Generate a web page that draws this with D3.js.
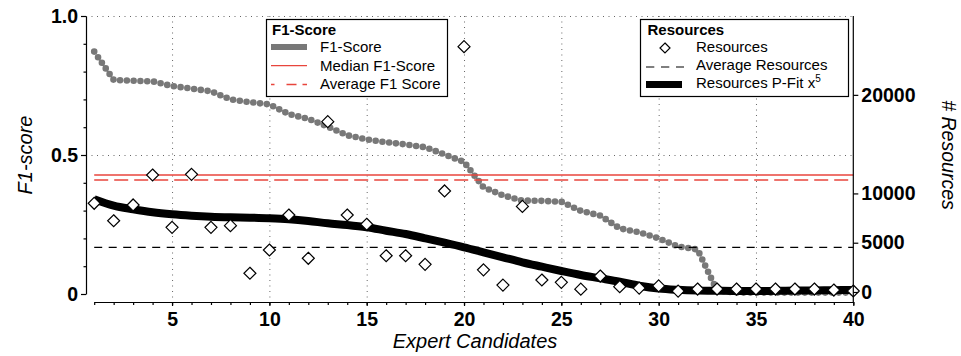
<!DOCTYPE html>
<html>
<head>
<meta charset="utf-8">
<script src="https://cdn.jsdelivr.net/npm/d3@7"></script>
<style>
body { margin: 0; background: #fff; }
svg { font-family: "Liberation Sans", Arial, Helvetica, sans-serif; }
</style>
</head>
<body>
<script>
// Data
const candidates = [1,2,3,4,5,6,7,8,9,10,11,12,13,14,15,16,17,18,19,20,
                    21,22,23,24,25,26,27,28,29,30,31,32,33,34,35,36,37,38,39,40];

const f1Scores = [0.872,0.770,0.767,0.765,0.748,0.739,0.729,0.700,0.690,0.682,
                  0.647,0.630,0.602,0.571,0.556,0.546,0.538,0.528,0.502,0.475,
                  0.384,0.355,0.336,0.335,0.332,0.299,0.282,0.236,0.222,0.200,
                  0.171,0.160,0.012,0.005,0.005,0.005,0.005,0.005,0.005,0.005];

const resources = [9000,7230,8830,11870,6560,11940,6560,6730,1900,4260,
                   7810,3420,17280,7810,6870,3680,3680,2810,10250,24890,
                   2250,700,8680,1220,980,290,1620,540,400,620,
                   90,300,300,300,300,300,300,300,200,100];

const resourcesFit = [9405,8755,8390,8086,7883,7741,7639,7578,7538,7477,
                      7376,7203,6970,6797,6564,6219,5884,5448,5002,4535,
                      4028,3520,3013,2567,2130,1725,1390,1045,639,355,
                      223,152,122,101,101,122,142,162,183,203];

const medianF1 = 0.428;
const averageF1 = 0.410;
const averageResources = 4535;

const xTicks = [5,10,15,20,25,30,35,40];
const xGrid = [5,10,15,20,25,30,35];
const leftTicks = [0, 0.5, 1];
const leftLabels = ["0", "0.5", "1.0"];
const leftMinor = [0.1,0.2,0.3,0.4,0.6,0.7,0.8,0.9];
const rightTicks = [0, 5000, 10000, 20000];

// Layout
var width = 961, height = 356;
var leftX = 86, xAxisY = 302;
var red = "#e8453c", gray = "#787878";

var svg = d3.select("body").append("svg")
    .attr("width", width)
    .attr("height", height);

var x = d3.scaleLinear().domain([1, 40]).range([94.2, 853.3]);
var yF1 = d3.scaleLinear().domain([0, 1]).range([294, 16]);
var yRes = d3.scaleLinear().domain([0, 28000]).range([292, 16]);

// Gridlines (dotted)
var grid = svg.append("g")
    .attr("stroke", "#666")
    .attr("stroke-width", 1)
    .attr("stroke-dasharray", "1,4.5");

grid.selectAll(".vgrid").data(xGrid)
  .enter().append("line")
    .attr("x1", d => x(d) + 0.5).attr("x2", d => x(d) + 0.5)
    .attr("y1", yF1(1)).attr("y2", xAxisY);

grid.selectAll(".hgrid").data([0.5, 1])
  .enter().append("line")
    .attr("x1", leftX).attr("x2", x(40))
    .attr("y1", d => yF1(d) + 0.5).attr("y2", d => yF1(d) + 0.5);

// F1-score as thick dotted line
svg.append("path")
    .datum(candidates)
    .attr("fill", "none")
    .attr("stroke", gray)
    .attr("stroke-width", 6.6)
    .attr("stroke-linecap", "round")
    .attr("stroke-dasharray", "0,6.8")
    .attr("d", d3.line()
        .x(d => x(d))
        .y((d, i) => yF1(f1Scores[i])));

// Median and average F1
svg.append("line")
    .attr("x1", x(1)).attr("x2", x(40))
    .attr("y1", yF1(medianF1)).attr("y2", yF1(medianF1))
    .attr("stroke", red).attr("stroke-width", 1.3);

svg.append("line")
    .attr("x1", x(1)).attr("x2", x(40))
    .attr("y1", yF1(averageF1)).attr("y2", yF1(averageF1))
    .attr("stroke", red).attr("stroke-width", 1.3)
    .attr("stroke-dasharray", "14,6");

// Average resources
svg.append("line")
    .attr("x1", x(1)).attr("x2", x(40))
    .attr("y1", yRes(averageResources)).attr("y2", yRes(averageResources))
    .attr("stroke", "#000").attr("stroke-width", 1.2)
    .attr("stroke-dasharray", "8,6.5");

// Polynomial fit of resources
svg.append("path")
    .datum(candidates)
    .attr("fill", "none")
    .attr("stroke", "#000")
    .attr("stroke-width", 8)
    .attr("d", d3.line()
        .curve(d3.curveMonotoneX)
        .x(d => x(d))
        .y((d, i) => yRes(resourcesFit[i])));

// Resources diamonds
function diamond(r) {
    return `M0,${-r}L${r},0L0,${r}L${-r},0Z`;
}

svg.selectAll(".res").data(candidates)
  .enter().append("path")
    .attr("class", "res")
    .attr("d", diamond(6))
    .attr("transform", (d, i) => `translate(${x(d)},${yRes(resources[i])})`)
    .attr("fill", "#fff")
    .attr("stroke", "#000")
    .attr("stroke-width", 1.2);

// Axes
function styleAxis(g, size) {
    g.selectAll("line").attr("stroke", "#000").attr("stroke-width", 1.2);
    g.selectAll("path").attr("stroke", "#000").attr("stroke-width", 1.2);
    g.selectAll("text")
        .attr("fill", "#000")
        .attr("font-family", "Liberation Sans, Arial, Helvetica, sans-serif")
        .attr("font-weight", "bold")
        .attr("font-size", size);
}

var leftAxis = svg.append("g")
    .attr("transform", `translate(${leftX},0)`)
    .call(d3.axisLeft(yF1).tickValues(leftTicks)
        .tickFormat((d, i) => leftLabels[i])
        .tickSize(5).tickSizeOuter(0).tickPadding(3));
styleAxis(leftAxis, 19.5);

var leftMinorAxis = svg.append("g")
    .attr("transform", `translate(${leftX},0)`)
    .call(d3.axisLeft(yF1).tickValues(leftMinor).tickFormat("").tickSize(2.5));
leftMinorAxis.select(".domain").remove();
styleAxis(leftMinorAxis, 10);

var rightAxis = svg.append("g")
    .attr("transform", `translate(${x(40)},0)`)
    .call(d3.axisRight(yRes).tickValues(rightTicks)
        .tickFormat(d3.format("d"))
        .tickSize(5).tickSizeOuter(0).tickPadding(3));
rightAxis.select(".domain").remove();
styleAxis(rightAxis, 19.5);

svg.append("line")
    .attr("x1", x(40)).attr("x2", x(40))
    .attr("y1", yF1(1)).attr("y2", xAxisY)
    .attr("stroke", "#000").attr("stroke-width", 1.2);

var xAxis = svg.append("g")
    .attr("transform", `translate(0,${xAxisY})`)
    .call(d3.axisBottom(x).tickValues(xTicks)
        .tickSize(4).tickSizeOuter(0).tickPadding(6));
styleAxis(xAxis, 19.5);

var xMinorAxis = svg.append("g")
    .attr("transform", `translate(0,${xAxisY})`)
    .call(d3.axisBottom(x).tickValues(candidates).tickFormat("").tickSize(3));
xMinorAxis.select(".domain").remove();
styleAxis(xMinorAxis, 10);

// Axis titles
svg.append("text")
    .attr("transform", "translate(32,155) rotate(-90)")
    .attr("text-anchor", "middle")
    .attr("font-style", "italic")
    .attr("font-size", 20)
    .text("F1-score");

svg.append("text")
    .attr("transform", "translate(942,155) rotate(90)")
    .attr("text-anchor", "middle")
    .attr("font-style", "italic")
    .attr("font-size", 19.5)
    .text("# Resources");

svg.append("text")
    .attr("x", 475).attr("y", 348)
    .attr("text-anchor", "middle")
    .attr("font-style", "italic")
    .attr("font-size", 20)
    .text("Expert Candidates");

// Legend: F1-Score
var leg1 = svg.append("g");
leg1.append("rect")
    .attr("x", 266.5).attr("y", 19.5)
    .attr("width", 181).attr("height", 77)
    .attr("fill", "#fff").attr("stroke", "#000").attr("stroke-width", 1.2);
leg1.append("text")
    .attr("x", 272).attr("y", 34.7)
    .attr("font-weight", "bold").attr("font-size", 15)
    .text("F1-Score");
leg1.append("rect")
    .attr("x", 271).attr("y", 44).attr("width", 36).attr("height", 6)
    .attr("fill", gray);
leg1.append("line")
    .attr("x1", 271).attr("x2", 307).attr("y1", 65.7).attr("y2", 65.7)
    .attr("stroke", red).attr("stroke-width", 1.3);
leg1.append("line")
    .attr("x1", 271).attr("x2", 307).attr("y1", 84.5).attr("y2", 84.5)
    .attr("stroke", red).attr("stroke-width", 1.3)
    .attr("stroke-dasharray", "3.5,12,10,6,4.5");
leg1.selectAll(".lt").data(["F1-Score", "Median F1-Score", "Average F1 Score"])
  .enter().append("text")
    .attr("x", 320)
    .attr("y", (d, i) => 52.3 + i * 18.3)
    .attr("font-size", 15)
    .text(d => d);

// Legend: Resources
var leg2 = svg.append("g");
leg2.append("rect")
    .attr("x", 640.5).attr("y", 19.5)
    .attr("width", 208).attr("height", 77)
    .attr("fill", "#fff").attr("stroke", "#000").attr("stroke-width", 1.2);
leg2.append("text")
    .attr("x", 647.5).attr("y", 34.7)
    .attr("font-weight", "bold").attr("font-size", 15)
    .text("Resources");
leg2.append("path")
    .attr("d", diamond(5))
    .attr("transform", "translate(665,48)")
    .attr("fill", "#fff").attr("stroke", "#000").attr("stroke-width", 1.2);
leg2.append("line")
    .attr("x1", 646).attr("x2", 684).attr("y1", 67).attr("y2", 67)
    .attr("stroke", "#000").attr("stroke-width", 1.2)
    .attr("stroke-dasharray", "8.3,6.7");
leg2.append("rect")
    .attr("x", 646).attr("y", 81).attr("width", 36).attr("height", 7)
    .attr("fill", "#000");
leg2.append("text").attr("x", 696).attr("y", 52.3).attr("font-size", 15).text("Resources");
leg2.append("text").attr("x", 696).attr("y", 70.3).attr("font-size", 15).text("Average Resources");
var fitLabel = leg2.append("text").attr("x", 696).attr("y", 88.3).attr("font-size", 15);
fitLabel.append("tspan").text("Resources P-Fit x");
fitLabel.append("tspan").attr("dy", -6).attr("font-size", 10).text("5");
</script>
</body>
</html>
